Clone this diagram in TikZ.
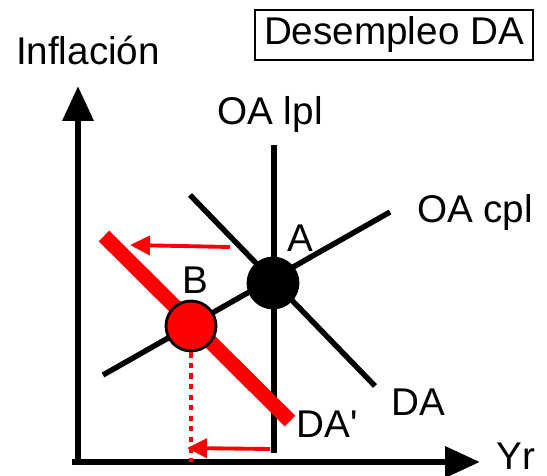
\documentclass[tikz,border=0pt]{standalone}
\usepackage{fontspec}
\setmainfont{Liberation Sans}
\usetikzlibrary{arrows.meta, positioning, calc}
\definecolor{ShiftRed}{HTML}{FF0000}

\tikzset{
  axis/.style={line width=3.8pt, -{Triangle[length=0.7cm, width=0.6cm]}},
  curve/.style={line width=3.1pt},
  shiftarrow/.style={ShiftRed, line width=2.2pt, -{Triangle[length=0.4cm, width=0.38cm]}},
  eqpoint/.style={circle, draw=black, line width=1.6pt, minimum size=1cm, inner sep=0pt},
  lbl/.style={font=\fontsize{22}{26}\selectfont, inner sep=0pt}
}

\begin{document}
\begin{tikzpicture}[x=0.02cm, y=-0.02cm]
    \useasboundingbox (0,0) rectangle (547,476);

    % Axes
    \coordinate (origin) at (78,462);
    \coordinate (ytip) at (78,86);
    \coordinate (xtip) at (480,462);
    \draw[axis] (72,462) coordinate (xstart) -- (xtip);
    \draw[axis] (origin) -- (ytip);
    \node[lbl] (inflacion) at (88,50) {Inflación};
    \node[lbl] (yr) at (516,456) {Yr};

    % Title box
    \node[lbl, draw, line width=1.5pt, minimum width=5.56cm, minimum height=1cm]
        (title) at (394,35) {Desempleo DA};

    % Curves
    \coordinate (lpltop) at (274,145);
    \coordinate (lplbot) at (274,453);
    \coordinate (cplleft) at (103,375);
    \coordinate (cplright) at (390,212);
    \coordinate (datop) at (190,195);
    \coordinate (dabot) at (375,386);
    \coordinate (dpltop) at (104,236);
    \coordinate (dplbot) at (290,421);

    \draw[curve] (lpltop) -- (lplbot);
    \draw[curve] (cplleft) -- (cplright);
    \draw[curve] (datop) -- (dabot);
    \draw[ShiftRed, line width=8.5pt] (dpltop) -- (dplbot);

    \node[lbl] (oalpl) at (270,115) {OA lpl};
    \node[lbl] (oacpl) at (475,213) {OA cpl};
    \node[lbl] (dalbl) at (418,402) {DA};
    \node[lbl] (dalbl2) at (327,424) {DA\textquotesingle};

    % Equilibria
    \node[eqpoint, fill=black] (A) at (273,283) {};
    \node[eqpoint, fill=ShiftRed] (B) at (191,326) {};
    \node[lbl] (alabel) at (300,238) {A};
    \node[lbl] (blabel) at (195,280) {B};

    % Shifts
    \coordinate (shiftstart) at (230,247);
    \coordinate (shiftend) at (130,245);
    \draw[shiftarrow] (shiftstart) -- (shiftend);
    \coordinate (ystart) at (270,449);
    \coordinate (yend) at (187,448);
    \draw[shiftarrow] (ystart) -- (yend);
    \coordinate (bfoot) at (B |- origin);
    \draw[ShiftRed, line width=1.8pt, dash pattern=on 3pt off 3pt] (B.south) -- (bfoot);
\end{tikzpicture}
\end{document}
